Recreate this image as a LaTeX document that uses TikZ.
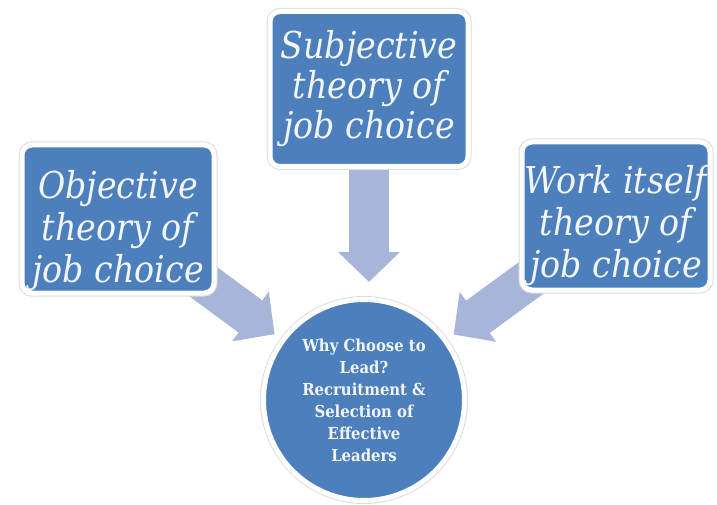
\documentclass[tikz,border=0pt]{standalone}
\usepackage{fontspec}
\setmainfont{DejaVu Serif Condensed}
\usetikzlibrary{arrows.meta,shadows,backgrounds}
\definecolor{boxblue}{RGB}{76,127,188}
\definecolor{arrowblue}{RGB}{167,182,216}
\definecolor{paletext}{RGB}{242,246,250}
\newcommand{\lowstrut}[1]{\rule{0pt}{#1}}
\begin{document}
\begin{tikzpicture}[x=1pt,y=-1pt,
  theory/.style = {shape=rectangle, rounded corners=10pt,
    draw=white, line width=5pt, fill=boxblue, align=center,
    text=paletext, inner sep=0pt,
    minimum width=192pt, minimum height=148pt,
    preaction={draw=black!13, line width=7pt},
    drop shadow={shadow xshift=1.5pt, shadow yshift=-2pt, opacity=.3},
    font=\fontsize{37}{42}\selectfont\itshape},
  goal/.style = {shape=circle, draw=white, line width=5pt,
    fill=boxblue, align=center, text=paletext, inner sep=0pt,
    minimum size=201pt,
    preaction={draw=black!13, line width=7pt},
    drop shadow={shadow xshift=1.5pt, shadow yshift=-2pt, opacity=.3},
    font=\fontsize{16.5}{22}\selectfont\bfseries},
  feed/.style = {draw=arrowblue, line width=40pt,
    -{Triangle[length=30pt,width=60pt]}}]
  \useasboundingbox (0,0) rectangle (717,505);
  \node[theory] (obj) at (118,219) {\lowstrut{52pt}Objective\\theory of\\job choice};
  \node[theory, minimum width=198pt, minimum height=155pt,
    font=\fontsize{37}{40}\selectfont\itshape] (subj) at (369,89) {Subjective\\theory of\\job choice};
  \node[theory, minimum width=188pt] (work) at (616,216) {\lowstrut{48pt}Work itself\\theory of\\job choice};
  \node[goal] (why) at (364,400) {Why Choose to\\Lead?\\Recruitment \&\\Selection of\\Effective\\Leaders};
  \begin{scope}[on background layer]
    \draw[feed, shorten >=8pt] (obj.center) -- (why);
    \draw[feed, shorten >=15pt] (subj.center) -- (subj.center |- why.north);
    \draw[feed, shorten >=8pt] (work.center) -- (why);
  \end{scope}
\end{tikzpicture}
\end{document}
